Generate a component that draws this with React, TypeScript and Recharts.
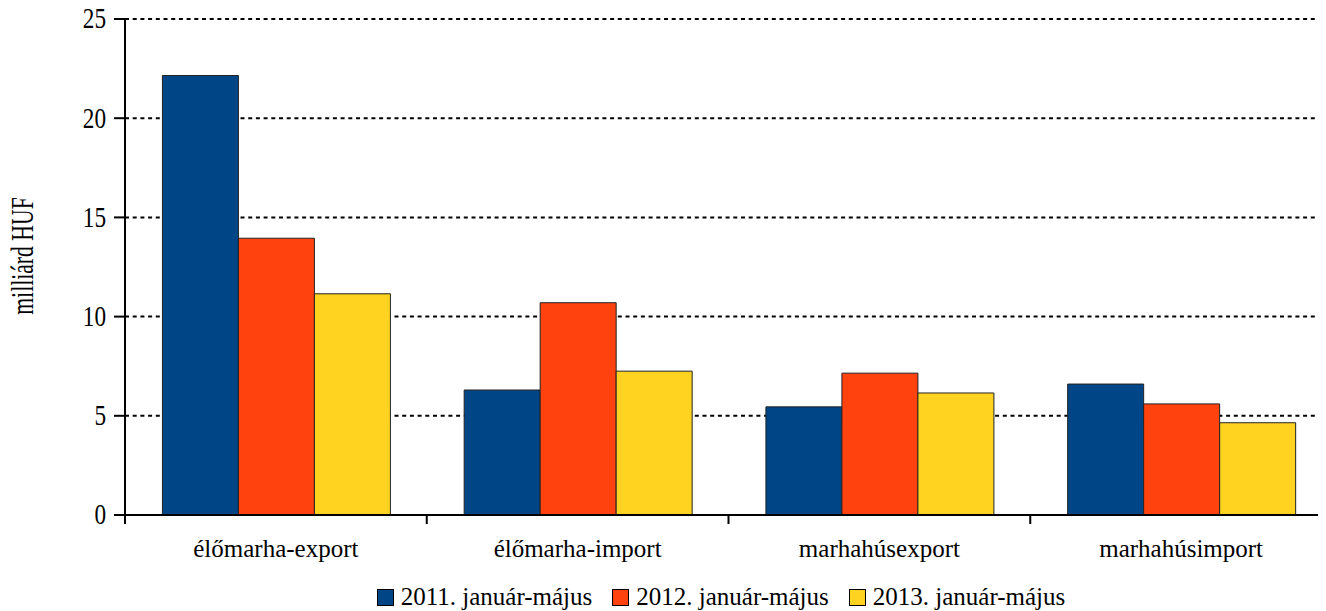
import React from "react";
import {
  BarChart,
  Bar,
  XAxis,
  YAxis,
  CartesianGrid,
  Legend,
} from "recharts";

const categories = [
  "élőmarha-export",
  "élőmarha-import",
  "marhahúsexport",
  "marhahúsimport",
];
const values2011 = [22.15, 6.3, 5.45, 6.6];
const values2012 = [13.95, 10.7, 7.15, 5.6];
const values2013 = [11.15, 7.25, 6.15, 4.65];
const seriesNames = [
  "2011. január-május",
  "2012. január-május",
  "2013. január-május",
];
const yTicks = [0, 5, 10, 15, 20, 25];

const colors = ["#004586", "#ff420e", "#ffd320"];
const font = "'Liberation Serif', 'Times New Roman', serif";

const data = categories.map((name, i) => ({
  name,
  s2011: values2011[i],
  s2012: values2012[i],
  s2013: values2013[i],
}));

// labels sit at band centres, tick marks at band edges
function CategoryTick(props: any) {
  const { x, y, payload, width, visibleTicksCount } = props;
  const half =
    typeof payload?.offset === "number" && payload.offset > 0
      ? payload.offset
      : width / visibleTicksCount / 2;
  return (
    <g>
      <line x1={x - half} y1={y} x2={x - half} y2={y + 9} stroke="#000" strokeWidth={2} />
      <text x={x} y={y + 42} textAnchor="middle" fontSize={25} fontFamily={font} fill="#000">
        {payload.value}
      </text>
    </g>
  );
}

// narrow, tall digits like the original
function ValueTick(props: any) {
  const { x, y, payload } = props;
  return (
    <text
      transform={`translate(${x} ${y}) scale(0.8 1)`}
      textAnchor="end"
      dominantBaseline="central"
      fontSize={29}
      fontFamily={font}
      fill="#000"
    >
      {payload.value}
    </text>
  );
}

function AxisTitle(props: any) {
  const { viewBox } = props;
  const cx = viewBox.x + 23;
  const cy = viewBox.y + viewBox.height / 2 - 11;
  return (
    <text
      transform={`translate(${cx} ${cy}) rotate(-90) scale(0.7 1)`}
      textAnchor="middle"
      dominantBaseline="central"
      fontSize={31}
      fontFamily={font}
      fill="#000"
    >
      milliárd HUF
    </text>
  );
}

function LegendContent() {
  return (
    <div
      style={{
        height: 40,
        boxSizing: "border-box",
        paddingTop: 12,
        paddingLeft: 110,
        display: "flex",
        justifyContent: "center",
        alignItems: "center",
        fontFamily: font,
        fontSize: 25,
        color: "#000",
      }}
    >
      {seriesNames.map((n, i) => (
        <div key={n} style={{ display: "flex", alignItems: "center", marginRight: i < 2 ? 20 : 0 }}>
          <span
            style={{
              width: 15,
              height: 15,
              background: colors[i],
              border: "1px solid #000",
              marginRight: 7,
              display: "inline-block",
            }}
          />
          <span style={{ lineHeight: "28px" }}>{n}</span>
        </div>
      ))}
    </div>
  );
}

export default function App() {
  return (
    <div style={{ margin: "-8px 0 0 -8px", width: 1326, height: 611, overflow: "hidden" }}>
      <BarChart
        width={1332}
        height={611}
        data={data}
        margin={{ top: 19, right: 0, left: 0, bottom: 0 }}
        barCategoryGap="12.4%"
        barGap={0}
      >
        <CartesianGrid
          vertical={false}
          stroke="#000"
          strokeWidth={2}
          strokeDasharray="4 3.7"
        />
        <XAxis
          dataKey="name"
          height={56}
          axisLine={{ stroke: "#000", strokeWidth: 2 }}
          tickLine={false}
          tickSize={0}
          tickMargin={0}
          interval={0}
          tick={<CategoryTick />}
        />
        <YAxis
          width={125}
          domain={[0, 25]}
          ticks={yTicks}
          interval={0}
          axisLine={{ stroke: "#000", strokeWidth: 2 }}
          tickLine={{ stroke: "#000", strokeWidth: 2 }}
          tickSize={11}
          tickMargin={8}
          tick={<ValueTick />}
          label={<AxisTitle />}
        />
        <Legend verticalAlign="bottom" content={<LegendContent />} />
        <Bar dataKey="s2011" name={seriesNames[0]} fill={colors[0]} stroke="#222" strokeWidth={1} isAnimationActive={false} />
        <Bar dataKey="s2012" name={seriesNames[1]} fill={colors[1]} stroke="#222" strokeWidth={1} isAnimationActive={false} />
        <Bar dataKey="s2013" name={seriesNames[2]} fill={colors[2]} stroke="#222" strokeWidth={1} isAnimationActive={false} />
      </BarChart>
    </div>
  );
}
